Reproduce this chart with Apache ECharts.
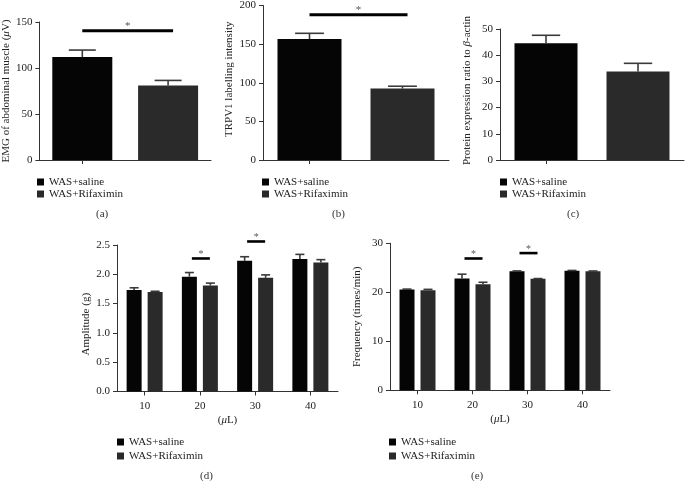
<!DOCTYPE html>
<html>
<head>
<meta charset="utf-8">
<script src="https://cdn.jsdelivr.net/npm/echarts@6/dist/echarts.min.js"></script>
<style>html,body{margin:0;padding:0;background:#fff}#c{width:690px;height:481px}</style>
</head>
<body>
<div id="c"></div>
<script>
// ---------- DATA ----------
const groups = ['WAS+saline', 'WAS+Rifaximin'];
// (a) EMG of abdominal muscle (μV)
const emgMean = [112, 81];
const emgSem = [7.5, 5.5];
const emgSig = [[0, 1, 140.6]];
// (b) TRPV1 labelling intensity
const trpv1Mean = [156.5, 92.5];
const trpv1Sem = [7.5, 3];
const trpv1Sig = [[0, 1, 188]];
// (c) Protein expression ratio to β-actin
const protMean = [44.6, 33.8];
const protSem = [3.0, 3.1];
// (d)/(e) dose (μL)
const doses = ['10', '20', '30', '40'];
const ampSaline = [1.73, 1.96, 2.23, 2.26];
const ampSalineSem = [0.04, 0.07, 0.07, 0.08];
const ampRifax = [1.70, 1.81, 1.94, 2.20];
const ampRifaxSem = [0.01, 0.04, 0.05, 0.05];
const ampSig = [[1, 2.27], [2, 2.56]];
const freqSaline = [20.55, 22.8, 24.3, 24.4];
const freqSalineSem = [0.1, 0.9, 0.06, 0.06];
const freqRifax = [20.4, 21.65, 22.75, 24.3];
const freqRifaxSem = [0.2, 0.4, 0.05, 0.05];
const freqSig = [[1, 26.9], [2, 28.0]];
const yTicksA = [0, 150, 50];
const yTicksB = [0, 200, 50];
const yTicksC = [0, 50, 10];
const yTicksD = [0, 2.5, 0.5];
const yTicksE = [0, 30, 10];

// ---------- STYLE ----------
const FONT = 'Liberation Serif';
const C_SAL = '#050505';
const C_RIF = '#2a2a2a';
const AXC = '#333';
const chart = echarts.init(document.getElementById('c'));

const grids = [
  {left: 36, top: 22, width: 175, height: 138},
  {left: 263, top: 5, width: 186, height: 155},
  {left: 500, top: 29, width: 184, height: 131},
  {left: 117, top: 245, width: 221, height: 146.5},
  {left: 390, top: 243.3, width: 220, height: 147}
];
const topBarW = [60, 64, 63];

function xAx(i, cats, showLabels) {
  return {
    type: 'category', gridIndex: i, data: cats,
    axisLine: {lineStyle: {color: AXC, width: 1}},
    axisTick: {show: true, alignWithLabel: true, length: 4, lineStyle: {color: AXC}},
    axisLabel: {show: showLabels, fontFamily: FONT, fontSize: 11, color: '#222', margin: 9},
    name: showLabels ? '({i|μ}L)' : '',
    nameLocation: 'middle', nameGap: 23,
    nameTextStyle: {fontFamily: FONT, fontSize: 11, color: '#222',
      rich: {i: {fontFamily: FONT, fontSize: 11, fontStyle: 'italic', color: '#222'}}}
  };
}
function yAx(i, t, name, gap, dec, pad) {
  return {
    type: 'value', gridIndex: i, min: t[0], max: t[1], interval: t[2],
    splitLine: {show: false},
    axisLine: {show: true, lineStyle: {color: AXC, width: 1}},
    axisTick: {show: true, length: 4, lineStyle: {color: AXC}},
    axisLabel: {fontFamily: FONT, fontSize: 11, color: '#222', margin: 7,
      formatter: v => dec ? v.toFixed(1) : String(v)},
    name: name, nameLocation: 'middle', nameGap: gap,
    nameTextStyle: {fontFamily: FONT, fontSize: 11, color: '#222', padding: pad,
      rich: {i: {fontFamily: FONT, fontSize: 11, fontStyle: 'italic', color: '#222'}}}
  };
}

function errSeries(gi, data, offset, capW) {
  return {
    type: 'custom', xAxisIndex: gi, yAxisIndex: gi, z: 3, silent: true,
    data: data,
    renderItem: function (params, api) {
      const x = api.value(0), m = api.value(1), s = api.value(2);
      const p0 = api.coord([x, m]);
      const p1 = api.coord([x, m + s]);
      const cx = p0[0] + offset;
      const st = {stroke: '#3a3a3a', lineWidth: 1.6};
      return {type: 'group', children: [
        {type: 'line', shape: {x1: cx, y1: p0[1], x2: cx, y2: p1[1]}, style: st},
        {type: 'line', shape: {x1: cx - capW / 2, y1: p1[1], x2: cx + capW / 2, y2: p1[1]}, style: st}
      ]};
    }
  };
}
function sigTopSeries(gi, data) {
  return {
    type: 'custom', xAxisIndex: gi, yAxisIndex: gi, z: 4, silent: true, clip: false,
    data: data,
    renderItem: function (params, api) {
      const a = api.coord([api.value(0), api.value(2)]);
      const b = api.coord([api.value(1), api.value(2)]);
      const x0 = a[0], x1 = b[0] + 5;
      return {type: 'group', children: [
        {type: 'line', shape: {x1: x0, y1: a[1], x2: x1, y2: a[1]}, style: {stroke: '#000', lineWidth: 3}},
        {type: 'text', style: {text: '*', x: (x0 + x1) / 2, y: a[1] + 1, align: 'center', verticalAlign: 'bottom',
          font: '11px "' + FONT + '"', fill: '#555'}}
      ]};
    }
  };
}
function sigDoseSeries(gi, data) {
  return {
    type: 'custom', xAxisIndex: gi, yAxisIndex: gi, z: 4, silent: true, clip: false,
    data: data,
    renderItem: function (params, api) {
      const p = api.coord([api.value(0), api.value(1)]);
      const x0 = p[0] - 8, x1 = p[0] + 10;
      return {type: 'group', children: [
        {type: 'line', shape: {x1: x0, y1: p[1], x2: x1, y2: p[1]}, style: {stroke: '#000', lineWidth: 2.6}},
        {type: 'text', style: {text: '*', x: (x0 + x1) / 2, y: p[1] + 1, align: 'center', verticalAlign: 'bottom',
          font: '10px "' + FONT + '"', fill: '#555'}}
      ]};
    }
  };
}

const series = [];
// top panels: one bar per category, two series overlapping
const topData = [[emgMean, emgSem], [trpv1Mean, trpv1Sem], [protMean, protSem]];
topData.forEach((d, gi) => {
  const [mean, sem] = d;
  series.push({name: groups[0], type: 'bar', xAxisIndex: gi, yAxisIndex: gi, barWidth: topBarW[gi], barGap: '-100%',
    itemStyle: {color: C_SAL}, data: [mean[0], '-']});
  series.push({name: groups[1], type: 'bar', xAxisIndex: gi, yAxisIndex: gi, barWidth: topBarW[gi], barGap: '-100%',
    itemStyle: {color: C_RIF}, data: ['-', mean[1]]});
  series.push(errSeries(gi, mean.map((m, i) => [i, m, sem[i]]), 0, topBarW[gi] * 0.45));
});
series.push(sigTopSeries(0, emgSig));
series.push(sigTopSeries(1, trpv1Sig));

const BW = 15, GAP = 6, OFF = (BW + GAP) / 2;
[[3, ampSaline, ampSalineSem, ampRifax, ampRifaxSem, ampSig],
 [4, freqSaline, freqSalineSem, freqRifax, freqRifaxSem, freqSig]].forEach(r => {
  const [gi, sm, ss, rm, rs, sig] = r;
  series.push({name: groups[0], type: 'bar', xAxisIndex: gi, yAxisIndex: gi, barWidth: BW, barGap: (GAP / BW * 100) + '%',
    itemStyle: {color: C_SAL}, data: sm});
  series.push({name: groups[1], type: 'bar', xAxisIndex: gi, yAxisIndex: gi, barWidth: BW, barGap: (GAP / BW * 100) + '%',
    itemStyle: {color: C_RIF}, data: rm});
  series.push(errSeries(gi, sm.map((m, i) => [i, m, ss[i]]), -OFF, 9));
  series.push(errSeries(gi, rm.map((m, i) => [i, m, rs[i]]), OFF, 9));
  series.push(sigDoseSeries(gi, sig));
});

function legend(left, top, gap) {
  return {
    data: groups, orient: 'vertical', left: left, top: top, itemGap: gap, padding: 0,
    icon: 'rect', itemWidth: 7, itemHeight: 7, selectedMode: false,
    textStyle: {fontFamily: FONT, fontSize: 11, color: '#222', lineHeight: 12}
  };
}
function caption(text, left, top) {
  return {text: text, left: left, top: top, padding: 0,
    textStyle: {fontFamily: FONT, fontSize: 11, fontWeight: 'normal', color: '#333'}};
}

chart.setOption({
  animation: false,
  grid: grids,
  title: [caption('(a)', 96, 209), caption('(b)', 332, 209), caption('(c)', 567, 209),
          caption('(d)', 200, 471), caption('(e)', 471, 471)],
  legend: [legend(37, 176, 0), legend(262, 176, 0), legend(500, 176, 0),
           legend(117, 436, 2), legend(389, 436, 2)],
  xAxis: [xAx(0, groups, false), xAx(1, groups, false), xAx(2, groups, false),
          xAx(3, doses, true), xAx(4, doses, true)],
  yAxis: [yAx(0, yTicksA, 'EMG of abdominal muscle ({i|μ}V)', 23, false, 0),
          yAx(1, yTicksB, 'TRPV1 labelling intensity', 28, false, [0, 0, 0, 7]),
          yAx(2, yTicksC, 'Protein expression ratio to {i|β}-actin', 27, false, [0, 0, 0, 8]),
          yAx(3, yTicksD, 'Amplitude (g)', 25, true, [0, 12, 0, 0]),
          yAx(4, yTicksE, 'Frequency (times/min)', 27, false, 0)],
  series: series
});
</script>
</body>
</html>
